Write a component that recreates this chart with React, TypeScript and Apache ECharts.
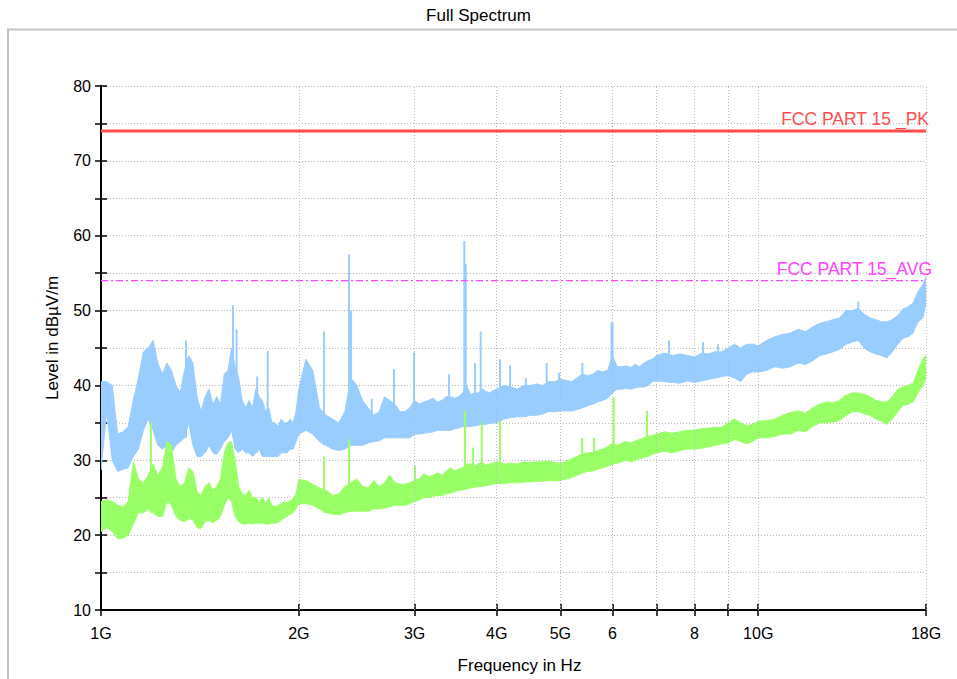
import React, { useEffect, useRef } from "react";
import * as echarts from "echarts";

// ---------- data (frequencies in GHz, levels in dBµV/m) ----------
const freqGHz = [
  1.0, 1.02, 1.04, 1.06, 1.08, 1.1, 1.12, 1.14, 1.16, 1.18,
  1.2, 1.22, 1.24, 1.26, 1.28, 1.3, 1.32, 1.34, 1.36, 1.38,
  1.4, 1.42, 1.44, 1.46, 1.48, 1.5, 1.52, 1.54, 1.56, 1.58,
  1.6, 1.62, 1.64, 1.66, 1.68, 1.7, 1.72, 1.74, 1.76, 1.78,
  1.8, 1.82, 1.84, 1.86, 1.88, 1.9, 1.92, 1.94, 1.96, 1.98,
  2.0,
  2.05, 2.1, 2.15, 2.2, 2.25, 2.3, 2.35, 2.4, 2.45, 2.5,
  2.55, 2.6, 2.65, 2.7, 2.75, 2.8, 2.85, 2.9, 2.95, 3.0,
  3.05, 3.1, 3.15, 3.2, 3.25, 3.3, 3.35, 3.4, 3.45, 3.5,
  3.55, 3.6, 3.65, 3.7, 3.75, 3.8, 3.85, 3.9, 3.95, 4.0,
  4.1, 4.2, 4.3, 4.4, 4.5, 4.6, 4.7, 4.8, 4.9, 5.0,
  5.1, 5.2, 5.3, 5.4, 5.5, 5.6, 5.7, 5.8, 5.9, 6.0,
  6.1, 6.2, 6.3, 6.4, 6.5, 6.6, 6.7, 6.8, 6.9, 7.0,
  7.2, 7.4, 7.6, 7.8, 8.0, 8.2, 8.4, 8.6, 8.8, 9.0, 9.2, 9.4, 9.6, 9.8,
  10.0, 10.3, 10.6, 10.9, 11.2, 11.5, 11.8, 12.1, 12.4, 12.7,
  13.0, 13.3, 13.6, 13.9, 14.2, 14.5, 14.8, 15.1, 15.4, 15.7,
  16.0, 16.3, 16.6, 16.9, 17.2, 17.5, 17.8, 18.0,
];

// Peak trace (blue): upper / lower envelope of the noise band
const pkHi = [
  40.5, 40.5, 40, 33.5, 33.8, 34.5, 38, 41, 44.5, 45,
  46, 43, 41.5, 43, 42, 40, 39, 42, 44, 43,
  38.5, 36.5, 38.5, 39.5, 37.5, 38.5, 37.5, 41.5, 42, 45,
  42.5, 41, 38, 37, 38, 37, 39.5, 38.5, 38, 36.5,
  37, 35, 35, 34.5, 35.5, 35, 35, 35.5, 35, 36.5,
  39.5,
  43.5, 42, 37, 36, 35.5, 35, 36.5, 41, 40, 38,
  37, 36, 36.5, 38.5, 38, 37.5, 36.5, 36.5, 37, 38,
  37.5, 37.8, 38, 38.3, 37.8, 38, 38.5, 38.5, 38.3, 38.5,
  39, 40, 38.8, 39, 39, 39.5, 39.2, 39, 39.3, 39.5,
  40, 39.8, 39.5, 40, 40, 40.2, 40, 40.5, 40.5, 40.8,
  40.7, 40.5, 41, 41.5, 41.3, 41.5, 42, 41.8, 42, 44,
  42.5, 42.5, 42.6, 42.4, 42.8, 42.5, 43, 43.3, 43.5, 44,
  44.3, 44, 44.2, 44, 43.8, 44.3, 44.2, 44.5, 44.5, 45, 45.5, 45, 45.5, 45.5,
  45.3, 46, 46.5, 46.8, 47, 47.5, 47.2, 47.8, 48.3, 48.5,
  48.8, 49, 50, 50, 50.3, 49.5, 49, 48.8, 48.5, 48.5,
  48.8, 49.3, 50.2, 50.5, 51, 52.5, 53.5, 54.5,
];
const pkLo = [
  28.7, 36.5, 30, 28.5, 28.8, 29, 30.5, 31.5, 34, 35.5,
  34, 32, 31.5, 32, 31, 32, 32.5, 33, 35, 32,
  30.5, 30.5, 31, 32, 31, 30.8, 31.5, 32.5, 33, 34,
  31.5, 31, 31.5, 31, 31, 30.5, 31, 31.5, 30.5, 30.5,
  30.5, 30.5, 30.5, 30.5, 31, 31, 31, 31.5, 31.5, 32.5,
  33.5,
  34, 33.5, 32.5, 32, 31.5, 31.3, 31.5, 32, 32, 32,
  32.3, 32.5, 32.6, 33, 33, 33, 33, 33, 33, 33.5,
  33.5, 33.6, 33.7, 33.8, 34, 34, 34, 34, 34.2, 34.3,
  34.5, 34.5, 34.5, 34.6, 34.7, 34.8, 34.8, 34.9, 35, 35,
  35.5, 35.7, 35.8, 35.8, 36, 36, 36.2, 36.5, 36.5, 36.6,
  36.6, 36.6, 36.8, 37, 37.3, 37.5, 37.8, 38, 38.3, 39,
  39.5, 39.5, 39.6, 39.5, 39.7, 39.8, 39.8, 40, 40.5, 40.6,
  40.5, 40.4, 40.3, 40.6, 40.4, 40.6, 40.8, 41, 41.2, 41.3, 41, 40.5, 41.5, 41.8,
  41.8, 42, 42.5, 42.3, 42.5, 43, 42.8, 43.3, 44, 44.2,
  44.5, 44.8, 45.5, 45.8, 46, 45, 44.5, 44.2, 44, 43.7,
  44.5, 45.5, 46.3, 46.5, 47, 48.5, 49, 51,
];

// Average trace (green): upper / lower envelope
const avHi = [
  24.5, 24.7, 24.5, 24, 23.8, 24.5, 29.8, 27.5, 27, 28,
  29.5, 28, 29, 32.5, 32, 27.5, 26.5, 27, 29, 28.5,
  25.8, 25.3, 26.5, 27, 26, 26.5, 27.5, 31, 32.3, 32.5,
  30, 26.5, 25.5, 25.3, 26, 25, 25, 24.5, 25, 24.3,
  25, 24, 23.8, 24, 24.2, 24.5, 24.3, 24.6, 24.8, 25.5,
  27.4,
  27.3, 26.8, 26.3, 26, 25.3, 25.5, 26.5, 27, 27.5, 26.5,
  26.3, 27.3, 26.5, 27, 28, 27, 26.8, 26.8, 27, 27.3,
  27.5, 28.2, 27.8, 28, 28.3, 28, 28.5, 29, 28.6, 28.8,
  29, 29.5, 29.5, 29.2, 29.5, 29.8, 29.3, 29.5, 29.6, 29.8,
  29.5, 29.6, 29.5, 29.8, 29.7, 29.8, 29.8, 29.9, 29.7, 29.6,
  29.8, 30.2, 30.5, 30.8, 31, 31, 31.3, 31.5, 31.8, 32.3,
  32, 32.3, 32.5, 32.3, 32.6, 32.8, 33, 33.2, 33.3, 33.5,
  33.8, 33.6, 33.8, 34, 34, 34.2, 34.3, 34.4, 34.4, 35, 35.5, 35, 34.6, 34.8,
  35.2, 35.3, 35.5, 36, 36.4, 36.6, 36.3, 37, 37.5, 37.8,
  37.7, 38, 38.7, 39, 39, 38.8, 38.5, 38, 37.8, 37.8,
  38.5, 39.5, 39.8, 40, 40.3, 42, 43.5, 44,
];
const avLo = [
  20.5, 21, 20.5, 19.5, 19.6, 20, 21.5, 23, 23, 23.5,
  23, 22.5, 22.5, 24.5, 24, 22.5, 22, 21.8, 22.2, 22,
  21, 20.9, 21.8, 22, 21.7, 22, 22.5, 24, 25, 24.5,
  22.5, 21.8, 21.5, 21.5, 21.6, 21.5, 21.6, 21.6, 21.6, 21.5,
  21.5, 21.6, 21.6, 21.7, 22, 22.3, 22.5, 22.8, 23, 23.5,
  24.2,
  24.2, 24, 23.5, 23, 22.8, 22.7, 23, 23.2, 23.2, 23.2,
  23.2, 23.5, 23.5, 23.6, 23.8, 24, 24, 24, 24.2, 24.5,
  24.7, 25, 25, 25.2, 25.3, 25.3, 25.5, 25.6, 25.8, 26,
  26, 26.2, 26.3, 26.4, 26.5, 26.5, 26.6, 26.7, 26.8, 26.9,
  26.9, 27, 27, 27.1, 27.1, 27.2, 27.2, 27.3, 27.3, 27.3,
  27.5, 27.7, 28, 28.3, 28.5, 28.6, 28.8, 29, 29.2, 29.5,
  29.6, 29.8, 30, 29.8, 30, 30.2, 30.4, 30.5, 30.8, 31,
  31.2, 31, 31.3, 31.5, 31.5, 31.6, 31.8, 32, 32.2, 32.3, 32.8, 32.5, 32.2, 32.5,
  33, 33, 33.2, 33.5, 33.5, 34, 33.8, 34.5, 35, 35,
  35.1, 35.3, 36, 36.5, 36.5, 36.2, 36, 35.5, 35.2, 34.8,
  35.5, 36.5, 37.3, 37.5, 37.8, 39, 40, 41,
];

// Narrow spurious peaks
const pkSpikeGHz = [
  1.347, 1.588, 1.608, 1.728, 1.793, 2.184, 2.384, 2.401, 2.582, 2.791, 2.995,
  3.385, 3.571, 3.589, 3.709, 3.782, 4.047, 4.192, 4.43, 4.766, 4.977,
  5.4, 5.98, 6.002, 7.316, 8.24, 8.686, 14.2,
];
const pkSpikeV = [
  46, 50.7, 47.5, 41.2, 44.6, 47.2, 57.5, 50, 38.2, 42.2, 44.4,
  41.5, 59.3, 56.2, 43, 47.2, 43.5, 42.7, 41, 43, 41.7,
  43, 48.4, 48.4, 46, 45.8, 45.5, 51.2,
];
const avSpikeGHz = [1.191, 2.184, 2.384, 3.005, 3.58, 3.683, 3.796, 4.047, 5.395, 5.627, 6.027, 6.774];
const avSpikeV = [35, 30.5, 32.8, 29.3, 36.6, 31.7, 35, 35.3, 33, 33, 38.4, 36.6];

// Limit lines
const limitPkName = "FCC PART 15 _PK";
const limitPkGHz = [1, 18];
const limitPkV = [74, 74];
const limitAvName = "FCC PART 15_AVG";
const limitAvGHz = [1, 18];
const limitAvV = [54, 54];

// Axes
const xLabelGHz = [1, 2, 3, 4, 5, 6, 8, 10, 18];
const xLabelText = ["1G", "2G", "3G", "4G", "5G", "6", "8", "10G", "18G"];
const xTickGHz = [1, 2, 3, 4, 5, 6, 7, 8, 9, 10, 18];
const xGridGHz = [2, 3, 4, 5, 6, 7, 8, 9, 10, 18];
const yMin = 10;
const yMax = 80;
const yStep = 5;

const G = 1e9;
const FONT = "'Liberation Sans', Arial, Helvetica, sans-serif";
const BLUE = "#99ccff";
const GREEN = "#99ff66";
const RED = "#ff4d4d";
const MAGENTA = "#ff44ff";
const GRID_COLOR = "#b8b8b8";

function nearestIndex(f: number): number {
  let best = 0;
  let bestD = Infinity;
  for (let i = 0; i < freqGHz.length; i++) {
    const d = Math.abs(Math.log(freqGHz[i]) - Math.log(f));
    if (d < bestD) {
      bestD = d;
      best = i;
    }
  }
  return best;
}

function bandSeries(name: string, hi: number[], lo: number[], spF: number[], spV: number[], color: string, z: number) {
  return {
    type: "custom",
    name,
    z,
    silent: true,
    clip: true,
    xAxisIndex: 0,
    yAxisIndex: 0,
    data: [[freqGHz[0] * G, lo[0]]],
    renderItem: (_params: any, api: any) => {
      const top = freqGHz.map((f, i) => api.coord([f * G, hi[i]]));
      const bot = freqGHz.map((f, i) => api.coord([f * G, lo[i]])).reverse();
      const children: any[] = [
        {
          type: "polygon",
          shape: { points: top.concat(bot) },
          style: { fill: color, stroke: color, lineWidth: 1 },
        },
      ];
      spF.forEach((f, k) => {
        const p1 = api.coord([f * G, spV[k]]);
        const p0 = api.coord([f * G, lo[nearestIndex(f)]]);
        children.push({
          type: "line",
          shape: { x1: p0[0], y1: p0[1], x2: p1[0], y2: p1[1] },
          style: { stroke: color, lineWidth: 2 },
        });
      });
      return { type: "group", children };
    },
  };
}

function limitSeries(name: string, fs: number[], vs: number[], color: string, width: number, dash: any, dist: number[]) {
  return {
    type: "line",
    name,
    z: 6,
    silent: true,
    symbol: "none",
    xAxisIndex: 0,
    yAxisIndex: 0,
    data: fs.map((f, i) => [f * G, vs[i]]),
    lineStyle: { color, width, type: dash },
    markLine: {
      silent: true,
      symbol: "none",
      lineStyle: { width: 0, color },
      data: [{ yAxis: vs[vs.length - 1] }],
      label: {
        show: true,
        position: "insideEndTop",
        formatter: name,
        color,
        fontSize: 17.5,
        fontFamily: FONT,
        distance: dist,
      },
    },
  };
}

function xLabel(v: number): string {
  const g = v / G;
  for (let i = 0; i < xLabelGHz.length; i++) {
    if (Math.abs(g - xLabelGHz[i]) < 1e-3) return xLabelText[i];
  }
  return "";
}

const option: any = {
  animation: false,
  backgroundColor: "#ffffff",
  title: {
    text: "Full Spectrum",
    left: "center",
    top: 2,
    padding: [5, 0, 5, 17],
    textStyle: { fontSize: 17, fontWeight: "normal", color: "#000", fontFamily: FONT },
  },
  graphic: [
    {
      type: "rect",
      silent: true,
      z: -10,
      shape: { x: 8, y: 29.5, width: 1000, height: 700 },
      style: { fill: "none", stroke: "#c2c2c2", lineWidth: 2 },
    },
  ],
  grid: { left: 101, right: 31, top: 86, bottom: 67, containLabel: false },
  xAxis: [
    {
      type: "log",
      logBase: 10,
      min: 1 * G,
      max: 18 * G,
      position: "bottom",
      name: "Frequency in Hz",
      nameLocation: "middle",
      nameGap: 47,
      nameTextStyle: { fontSize: 17, color: "#000", fontFamily: FONT, padding: [0, 0, 0, 12] },
      axisLine: { show: true, onZero: false, lineStyle: { color: "#000", width: 2 } },
      axisTick: {
        show: true,
        length: 6,
        customValues: xTickGHz.map((f) => f * G),
        lineStyle: { color: "#000", width: 1.5 },
      },
      axisLabel: {
        show: true,
        customValues: xLabelGHz.map((f) => f * G),
        formatter: xLabel,
        fontSize: 16,
        color: "#000",
        fontFamily: FONT,
        margin: 15,
      },
      splitLine: { show: false },
      minorTick: { show: false },
    },
    {
      type: "log",
      logBase: 10,
      min: 1 * G,
      max: 18 * G,
      position: "bottom",
      axisLine: { show: false },
      axisTick: {
        show: true,
        inside: true,
        length: 6,
        customValues: xTickGHz.map((f) => f * G),
        lineStyle: { color: "#000", width: 1.5 },
      },
      axisLabel: { show: false },
      splitLine: { show: false },
    },
  ],
  yAxis: [
    {
      type: "value",
      min: yMin,
      max: yMax,
      interval: yStep,
      position: "left",
      name: "Level in dBµV/m",
      nameLocation: "middle",
      nameGap: 40,
      nameTextStyle: { fontSize: 17, color: "#000", fontFamily: FONT, padding: [0, 0, 0, 20] },
      axisLine: { show: true, lineStyle: { color: "#000", width: 2 } },
      axisTick: { show: true, length: 6, lineStyle: { color: "#000", width: 1.5 } },
      axisLabel: {
        formatter: (v: number) => (v % 10 === 0 ? String(v) : ""),
        fontSize: 16,
        color: "#000",
        fontFamily: FONT,
        margin: 10,
      },
      splitLine: { show: true, lineStyle: { color: GRID_COLOR, type: [1, 2], width: 1 } },
    },
    {
      type: "value",
      min: yMin,
      max: yMax,
      interval: yStep,
      position: "left",
      axisLine: { show: false },
      axisTick: { show: true, inside: true, length: 6, lineStyle: { color: "#000", width: 1.5 } },
      axisLabel: { show: false },
      splitLine: { show: false },
    },
  ],
  series: [
    {
      type: "line",
      name: "grid",
      z: 1,
      silent: true,
      symbol: "none",
      xAxisIndex: 0,
      yAxisIndex: 0,
      data: [],
      markLine: {
        silent: true,
        symbol: "none",
        label: { show: false },
        lineStyle: { color: GRID_COLOR, type: [1, 2], width: 1 },
        data: xGridGHz.map((f) => ({ xAxis: f * G })),
      },
    },
    bandSeries("Peak", pkHi, pkLo, pkSpikeGHz, pkSpikeV, BLUE, 3),
    bandSeries("Average", avHi, avLo, avSpikeGHz, avSpikeV, GREEN, 4),
    limitSeries(limitPkName, limitPkGHz, limitPkV, RED, 3, "solid", [-3, 3]),
    limitSeries(limitAvName, limitAvGHz, limitAvV, MAGENTA, 1.2, [7, 3, 2, 3], [-6, 3]),
  ],
};

export default function App() {
  const ref = useRef<HTMLDivElement>(null);
  useEffect(() => {
    document.body.style.margin = "0";
    const chart = echarts.init(ref.current as HTMLDivElement, null, { renderer: "svg" });
    chart.setOption(option);
    return () => {
      chart.dispose();
    };
  }, []);
  return <div ref={ref} style={{ width: 957, height: 679 }} />;
}
